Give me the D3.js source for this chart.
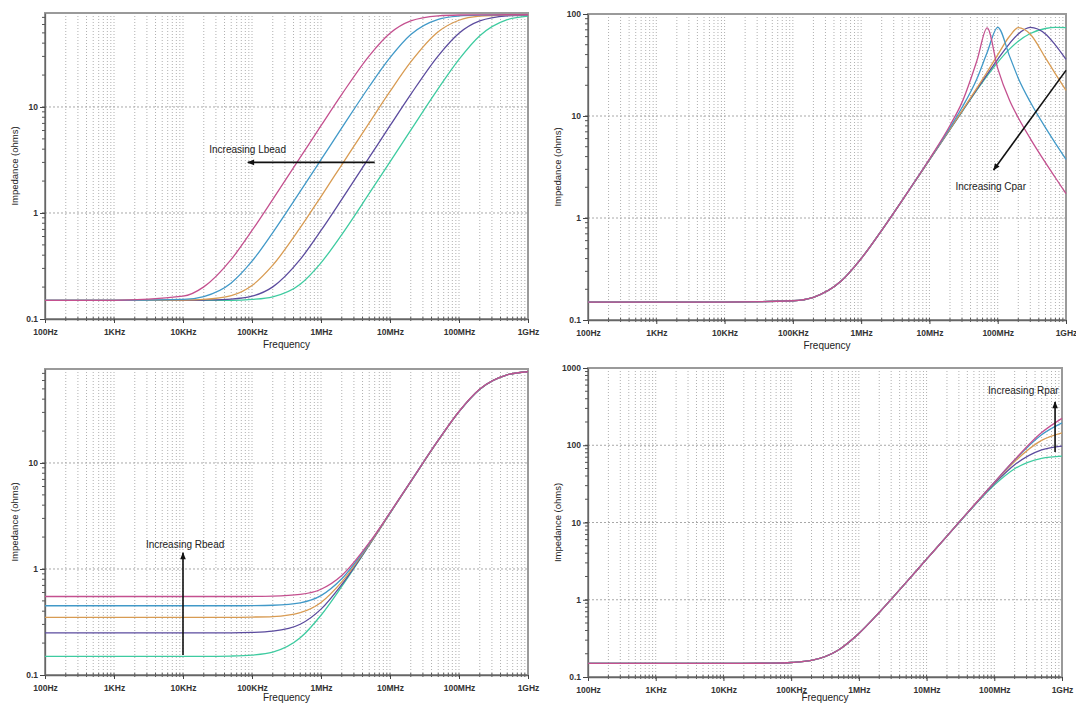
<!DOCTYPE html>
<html><head><meta charset="utf-8">
<script src="https://cdn.jsdelivr.net/npm/d3@7"></script>
<style>
html,body{margin:0;padding:0;background:#fff;}
svg{display:block;font-family:"Liberation Sans",Arial,Helvetica,sans-serif;}
</style></head><body>
<svg id="c" width="1076" height="706"></svg>
<script>
// ---------- DATA ----------
const freqStd  = [1e2,1e3,1e4,2e4,5e4,1e5,2e5,5e5,1e6,2e6,5e6,1e7,2e7,5e7,1e8,2e8,5e8,1e9];
const freqCpar = [1e2,1e3,1e4,1e5,2e5,5e5,1e6,2e6,5e6,1e7,2e7,3e7,5e7,7e7,1e8,1.5e8,2e8,3e8,5e8,7e8,1e9];

const xTickValues = [1e2,1e3,1e4,1e5,1e6,1e7,1e8,1e9];
const xTickLabels = ["100Hz","1KHz","10KHz","100KHz","1MHz","10MHz","100MHz","1GHz"];

const yTicksA = [0.1,1,10];            const yLabelsA = ["0.1","1","10"];
const yTicksB = [0.1,1,10,100];        const yLabelsB = ["0.1","1","10","100"];
const yTicksC = [0.1,1,10,100,1000];   const yLabelsC = ["0.1","1","10","100","1000"];

// Increasing Lbead (top-left)
const lbPink   = [0.15,0.15,0.164,0.201,0.365,0.684,1.345,3.34,6.66,13.15,30.4,49.6,64.8,72.4,73.7,74.0,74.1,74.1];
const lbBlue   = [0.15,0.15,0.153,0.163,0.219,0.351,0.654,1.60,3.18,6.34,15.6,29.2,48.3,67.2,72.2,73.6,74.0,74.1];
const lbOrange = [0.15,0.15,0.151,0.153,0.166,0.207,0.322,0.726,1.43,2.85,7.08,14.0,26.6,51.3,65.8,71.8,73.7,74.0];
const lbPurple = [0.15,0.15,0.15,0.151,0.154,0.164,0.201,0.365,0.684,1.345,3.34,6.66,13.15,30.4,49.6,64.8,72.4,73.7];
const lbGreen  = [0.15,0.15,0.15,0.15,0.150,0.153,0.162,0.213,0.339,0.626,1.53,3.04,6.05,14.9,28.1,47.0,66.6,72.0];

// Increasing Cpar (top-right)
const cpPink   = [0.15,0.15,0.15,0.1545,0.167,0.238,0.400,0.758,1.87,3.79,8.08,13.6,35.5,73.0,29.3,14.1,9.62,6.01,3.49,2.48,1.73];
const cpBlue   = [0.15,0.15,0.15,0.1545,0.167,0.238,0.400,0.758,1.87,3.75,7.69,12.1,23.5,41.9,74.1,38.2,23.5,13.7,7.69,5.40,3.75];
const cpOrange = [0.15,0.15,0.15,0.1545,0.167,0.238,0.400,0.758,1.86,3.72,7.45,11.2,19.0,27.0,39.8,60.9,73.4,63.4,37.2,25.9,17.8];
const cpPurple = [0.15,0.15,0.15,0.1545,0.167,0.238,0.400,0.758,1.86,3.71,7.41,11.1,18.4,25.6,36.0,51.6,63.7,74.0,63.7,49.6,36.0];
const cpGreen  = [0.15,0.15,0.15,0.1545,0.167,0.238,0.400,0.758,1.86,3.71,7.39,11.0,18.1,24.7,33.6,45.5,54.1,64.4,72.1,73.9,73.6];

// Increasing Rbead (bottom-left)
const rbPink   = [0.55,0.55,0.55,0.55,0.55,0.551,0.554,0.575,0.644,0.868,1.77,3.40,6.71,16.4,30.6,49.8,67.9,72.5];
const rbBlue   = [0.45,0.45,0.45,0.45,0.45,0.451,0.455,0.480,0.561,0.808,1.74,3.39,6.70,16.4,30.55,49.7,67.9,72.5];
const rbOrange = [0.35,0.35,0.35,0.35,0.35,0.352,0.356,0.388,0.484,0.756,1.71,3.37,6.68,16.3,30.5,49.7,67.9,72.5];
const rbPurple = [0.25,0.25,0.25,0.25,0.25,0.252,0.259,0.301,0.418,0.714,1.69,3.36,6.67,16.3,30.5,49.7,67.8,72.5];
const rbGreen  = [0.15,0.15,0.15,0.15,0.151,0.154,0.164,0.224,0.366,0.685,1.68,3.35,6.66,16.3,30.45,49.6,67.8,72.4];

// Increasing Rpar (bottom-right)
const rpPink   = [0.15,0.15,0.15,0.15,0.151,0.154,0.164,0.224,0.366,0.685,1.68,3.35,6.67,16.7,33.1,65.1,146,223];
const rpBlue   = [0.15,0.15,0.15,0.15,0.151,0.154,0.164,0.224,0.366,0.685,1.68,3.35,6.67,16.6,33.0,64.3,137,195];
const rpOrange = [0.15,0.15,0.15,0.15,0.151,0.154,0.164,0.224,0.366,0.685,1.68,3.35,6.67,16.6,32.7,61.6,115.5,144.4];
const rpPurple = [0.15,0.15,0.15,0.15,0.151,0.154,0.164,0.224,0.366,0.685,1.68,3.35,6.67,16.5,31.7,55.9,87.2,97.7];
const rpGreen  = [0.15,0.15,0.15,0.15,0.151,0.154,0.164,0.224,0.366,0.685,1.68,3.35,6.66,16.3,30.45,49.6,67.8,72.4];

const seriesColors = {green:"#3ecba0", purple:"#5b4b9e", orange:"#d89b52", blue:"#4199c8", pink:"#c4508f"};

const annotationTexts = ["Increasing Lbead","Increasing Cpar","Increasing Rbead","Increasing Rpar"];

// ---------- LAYOUT ----------
const panels = [
  {x0:45, x1:528, yTop:13, yBot:319, titleOff:29, yDomain:[0.1,77], yTicks:yTicksA, yLabels:yLabelsA, freq:freqStd,
   series:[["green",lbGreen],["purple",lbPurple],["orange",lbOrange],["blue",lbBlue],["pink",lbPink]],
   arrow:[[6e6,3],[8.7e4,3]], text:{at:[2.4e4,3.7], anchor:"start", s:annotationTexts[0]}},
  {x0:588, x1:1066, yTop:14, yBot:320, titleOff:29, yDomain:[0.1,100], yTicks:yTicksB, yLabels:yLabelsB, freq:freqCpar,
   series:[["green",cpGreen],["purple",cpPurple],["orange",cpOrange],["blue",cpBlue],["pink",cpPink]],
   arrow:[[1e9,28],[8.7e7,2.96]], text:{at:[7.9e7,1.88], anchor:"middle", s:annotationTexts[1]}},
  {x0:45, x1:528, yTop:369, yBot:675, titleOff:26, yDomain:[0.1,77], yTicks:yTicksA, yLabels:yLabelsA, freq:freqStd,
   series:[["green",rbGreen],["purple",rbPurple],["orange",rbOrange],["blue",rbBlue],["pink",rbPink]],
   arrow:[[1e4,0.154],[1e4,1.42]], text:{at:[2.9e3,1.58], anchor:"start", s:annotationTexts[2]}},
  {x0:588, x1:1062, yTop:368, yBot:677, titleOff:24, yDomain:[0.1,1000], yTicks:yTicksC, yLabels:yLabelsC, freq:freqStd,
   series:[["green",rpGreen],["purple",rpPurple],["orange",rpOrange],["blue",rpBlue],["pink",rpPink]],
   arrow:[[7.9e8,82],[7.9e8,363]], text:{at:[8.1e7,460], anchor:"start", s:annotationTexts[3]}}
];

const svg = d3.select("#c");
svg.append("rect").attr("width",1076).attr("height",706).attr("fill","#fff");
const defs = svg.append("defs");
defs.append("marker").attr("id","ah").attr("viewBox","0 0 10 10").attr("refX",9).attr("refY",5)
  .attr("markerWidth",8).attr("markerHeight",7).attr("markerUnits","userSpaceOnUse").attr("orient","auto")
  .append("path").attr("d","M0,1 L10,5 L0,9 Z").attr("fill","#111");

panels.forEach(p => {
  const x = d3.scaleLog().domain([1e2,1e9]).range([p.x0,p.x1]);
  const y = d3.scaleLog().domain(p.yDomain).range([p.yBot,p.yTop]);
  const g = svg.append("g");

  const xMinor = x.ticks().filter(v => v > 1e2*1.001 && v < 1e9*0.999);
  const yMinor = y.ticks().filter(v => v > p.yDomain[0]*1.001 && v < p.yDomain[1]*0.999);

  // vertical dotted grid
  g.append("g").selectAll("line").data(xMinor).join("line")
    .attr("x1",d=>x(d)).attr("x2",d=>x(d)).attr("y1",p.yTop).attr("y2",p.yBot)
    .attr("stroke","#b0b0b0").attr("stroke-width",1).attr("stroke-dasharray","1,2");
  // horizontal dotted grid at decades
  g.append("g").selectAll("line").data(p.yTicks.filter(v=>v>p.yDomain[0] && v<p.yDomain[1]*0.999)).join("line")
    .attr("x1",p.x0).attr("x2",p.x1).attr("y1",d=>y(d)).attr("y2",d=>y(d))
    .attr("stroke","#a8a8a8").attr("stroke-width",1).attr("stroke-dasharray","2,2");

  // frame
  g.append("rect").attr("x",p.x0).attr("y",p.yTop).attr("width",p.x1-p.x0).attr("height",p.yBot-p.yTop)
    .attr("fill","none").attr("stroke","#9a9a9a").attr("stroke-width",2);

  // minor ticks (crossing the axis lines)
  g.append("g").selectAll("line").data(xMinor).join("line")
    .attr("x1",d=>x(d)).attr("x2",d=>x(d)).attr("y1",p.yBot-2).attr("y2",p.yBot+2)
    .attr("stroke","#555");
  g.append("g").selectAll("line").data(yMinor).join("line")
    .attr("x1",p.x0-3).attr("x2",p.x0+1).attr("y1",d=>y(d)).attr("y2",d=>y(d))
    .attr("stroke","#555");

  // axes
  const xa = g.append("g").attr("transform",`translate(0,${p.yBot})`)
    .call(d3.axisBottom(x).tickValues(xTickValues).tickFormat((d,i)=>xTickLabels[i]).tickSizeInner(4).tickSizeOuter(0).tickPadding(6));
  const ya = g.append("g").attr("transform",`translate(${p.x0},0)`)
    .call(d3.axisLeft(y).tickValues(p.yTicks).tickFormat((d,i)=>p.yLabels[i]).tickSizeInner(5).tickSizeOuter(0).tickPadding(2));
  [xa,ya].forEach(a=>{
    a.select(".domain").attr("stroke","#666").attr("stroke-width",1.3);
    a.selectAll(".tick line").attr("stroke","#444");
    a.selectAll("text").attr("font-family","'Liberation Sans',Arial,sans-serif")
      .attr("font-size",8.5).attr("font-weight","bold").attr("fill","#333");
  });

  // axis titles
  g.append("text").attr("x",(p.x0+p.x1)/2).attr("y",p.yBot+p.titleOff).attr("text-anchor","middle")
    .attr("font-size",10).attr("fill","#222").text("Frequency");
  g.append("text").attr("transform",`translate(${p.x0-30},${(p.yTop+p.yBot)/2}) rotate(-90)`)
    .attr("text-anchor","middle").attr("dy","0.35em").attr("font-size",9.5).attr("fill","#222")
    .text("Impedance (ohms)");

  // curves
  const line = d3.line().x(d=>x(d[0])).y(d=>y(d[1])).curve(d3.curveMonotoneX);
  p.series.forEach(([name, vals]) => {
    g.append("path").datum(p.freq.map((f,i)=>[f, vals[i]]))
      .attr("d",line).attr("fill","none").attr("stroke",seriesColors[name]).attr("stroke-width",1.3);
  });

  // annotation
  g.append("line")
    .attr("x1",x(p.arrow[0][0])).attr("y1",y(p.arrow[0][1]))
    .attr("x2",x(p.arrow[1][0])).attr("y2",y(p.arrow[1][1]))
    .attr("stroke","#111").attr("stroke-width",1.6).attr("marker-end","url(#ah)");
  g.append("text").attr("x",x(p.text.at[0])).attr("y",y(p.text.at[1]))
    .attr("text-anchor",p.text.anchor).attr("font-size",10).attr("fill","#222").text(p.text.s);
});
</script>
</body></html>
